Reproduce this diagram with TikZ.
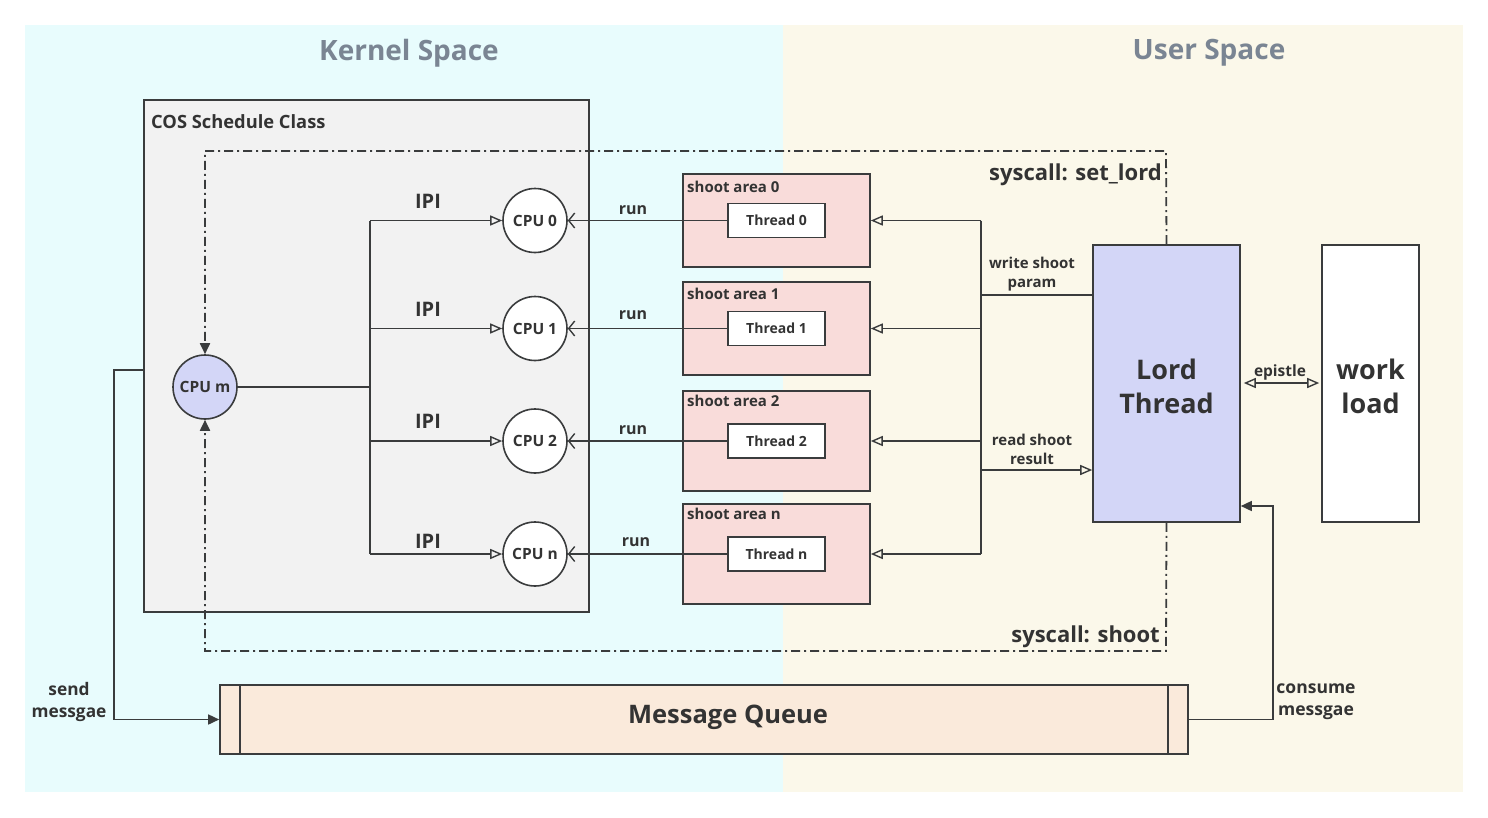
\documentclass[tikz,border=0pt]{standalone}
\usepackage{fontspec}
\setmainfont{Open Sans}
\usetikzlibrary{arrows.meta}
\definecolor{kbg}{HTML}{E8FCFD}
\definecolor{ubg}{HTML}{FBF8EA}
\definecolor{cosfill}{HTML}{F2F2F2}
\definecolor{shootfill}{HTML}{F9DCDA}
\definecolor{lav}{HTML}{D3D6F7}
\definecolor{mqfill}{HTML}{FAEADB}
\definecolor{ttl}{HTML}{7A8593}
\definecolor{ln}{HTML}{3A3C3D}
\definecolor{txt}{HTML}{333333}
\newcommand{\fs}[1]{\fontsize{#1pt}{\dimexpr #1pt*5/4\relax}\selectfont\bfseries}
\tikzset{
  every node/.style={text=txt},
  box/.style={draw=ln, line width=1.6pt, rectangle, inner sep=0pt},
  cpu/.style={draw=ln, line width=1.6pt, circle, fill=white, minimum size=64pt, inner sep=0pt, font=\fs{15.5}},
  shootbox/.style={box, fill=shootfill, minimum width=187pt},
  thr/.style={box, fill=white, minimum width=97pt, minimum height=34pt, font=\fs{14}},
  conn/.style={draw=ln, line width=1.6pt},
  opentri/.style={conn, -{Triangle[open, length=12pt, width=10pt, line width=1.4pt]}},
  runarr/.style={conn, -{Straight Barb[length=6pt, width=15pt, line width=1.4pt]}},
  fillarr/.style={conn, -{Triangle[length=11pt, width=10pt]}},
  dd/.style={conn, line width=1.8pt, dash pattern=on 9pt off 4pt on 2pt off 4pt, -{Triangle[length=11pt, width=10pt]}},
  lbl/.style={font=\fs{#1}, inner sep=0pt, align=center},
}
\begin{document}
\begin{tikzpicture}[x=1pt, y=-1pt]
\useasboundingbox (0,0) rectangle (1488,817);
\fill[white] (0,0) rectangle (1488,817);
\fill[kbg] (25,25) rectangle (783,792);
\fill[ubg] (783,25) rectangle (1463,792);
\node[lbl=28, text=ttl] (kt) at (409,53) {Kernel Space};
\node[lbl=28, text=ttl] (ut) at (1209,53) {User Space};

% COS schedule class
\node[box, fill=cosfill, minimum width=445pt, minimum height=512pt] (cos) at (366.5,356) {};
\node[lbl=18.3, anchor=west] (costl) at (151,122) {COS Schedule Class};

% CPUs
\node[cpu, fill=lav] (cpum) at (205,387) {CPU m};
\node[cpu] (cpu0) at (535,220.5) {CPU 0};
\node[cpu] (cpu1) at (535,328.5) {CPU 1};
\node[cpu] (cpu2) at (535,441) {CPU 2};
\node[cpu] (cpun) at (535,554) {CPU n};

% shoot areas
\node[shootbox, minimum height=93pt] (sa0) at (776.5,220.5) {};
\node[shootbox, minimum height=93pt] (sa1) at (776.5,328.5) {};
\node[shootbox, minimum height=100pt] (sa2) at (776.5,441) {};
\node[shootbox, minimum height=100pt] (san) at (776.5,554) {};
\node[lbl=15, anchor=west] (sa0l) at (687,187) {shoot area 0};
\node[lbl=15, anchor=west] (sa1l) at (687,294) {shoot area 1};
\node[lbl=15, anchor=west] (sa2l) at (687,401) {shoot area 2};
\node[lbl=15, anchor=west] (sanl) at (687,514) {shoot area n};
\node[thr] (t0) at (776.5,220.5) {Thread 0};
\node[thr] (t1) at (776.5,328.5) {Thread 1};
\node[thr] (t2) at (776.5,441) {Thread 2};
\node[thr] (tn) at (776.5,554) {Thread n};

% Lord thread and work load
\node[box, fill=lav, minimum width=147pt, minimum height=277pt] (lord) at (1166.5,383.5) {};
\node[lbl=27] (lordt) at (1166.5,386) {Lord\\Thread};
\node[box, fill=white, minimum width=97pt, minimum height=277pt] (work) at (1370.5,383.5) {};
\node[lbl=27] (workt) at (1370.5,386) {work\\load};

% Message queue
\node[box, fill=mqfill, minimum width=968pt, minimum height=69pt] (mq) at (704,719.5) {};
\node[lbl=25.5] (mqt) at (728,717) {Message Queue};
\draw[conn] (240,685) -- (240,754);
\draw[conn] (1168,685) -- (1168,754);

% IPI bus
\coordinate (bj) at (370,387);
\coordinate (bt) at (370,220.5);
\coordinate (bb) at (370,554);
\draw[conn] (cpum.east) -- (bj);
\draw[conn] (bt) -- (bb);
\draw[opentri] (bt) -- (cpu0.west);
\draw[opentri] (370,328.5) -- (cpu1.west);
\draw[opentri] (370,441) -- (cpu2.west);
\draw[opentri] (bb) -- (cpun.west);
\node[lbl=20] (ipi0) at (428,201) {IPI};
\node[lbl=20] (ipi1) at (428,309) {IPI};
\node[lbl=20] (ipi2) at (428,421) {IPI};
\node[lbl=20] (ipin) at (428,541) {IPI};

% run
\draw[runarr] (t0.west) -- (cpu0.east);
\draw[runarr] (t1.west) -- (cpu1.east);
\draw[runarr] (t2.west) -- (cpu2.east);
\draw[runarr] (tn.west) -- (cpun.east);
\node[lbl=16] (r0) at (633,210) {run};
\node[lbl=16] (r1) at (633,315) {run};
\node[lbl=16] (r2) at (633,430) {run};
\node[lbl=16] (rn) at (636,542) {run};

% right bus
\coordinate (rt) at (981,220.5);
\coordinate (rb) at (981,554);
\draw[conn] (rt) -- (rb);
\draw[opentri] (rt) -- (sa0.east);
\draw[opentri] (981,328.5) -- (sa1.east);
\draw[opentri] (981,441) -- (sa2.east);
\draw[opentri] (rb) -- (san.east);
\draw[conn] (lord.west |- 0,295) -- (981,295);
\draw[opentri] (981,470) -- (lord.west |- 0,470);
\node[lbl=15] (wsp) at (1032,274) {write shoot\\param};
\node[lbl=15] (rsr) at (1032,449) {read shoot\\result};

% epistle
\draw[conn, {Triangle[open, length=12pt, width=10pt, line width=1.4pt]}-{Triangle[open, length=12pt, width=10pt, line width=1.4pt]}, shorten <=3pt, shorten >=2pt] (lord.east |- 0,383) -- (work.west |- 0,383);
\node[lbl=15.5] (ep) at (1280,372) {epistle};

% syscall dash-dot
\draw[dd] (lord.north) -- (1166,151) -- (205,151) -- (cpum.north);
\draw[dd] (lord.south) -- (1166,651) -- (205,651) -- (cpum.south);
\node[lbl=22, anchor=east] (ssl) at (1162,175) {syscall: set\_lord};
\node[lbl=22, anchor=east] (ssh) at (1160,637) {syscall: shoot};

% send / consume
\draw[fillarr] (cos.west |- 0,370) -- (114,370) -- (114,719.5) -- (mq.west);
\node[lbl=17.3] (snd) at (69,702) {send\\messgae};
\draw[fillarr] (mq.east) -- (1273,719.5) -- (1273,506) -- (lord.east |- 0,506);
\node[lbl=17.5] (cns) at (1316,702) {consume\\messgae};
\end{tikzpicture}
\end{document}
